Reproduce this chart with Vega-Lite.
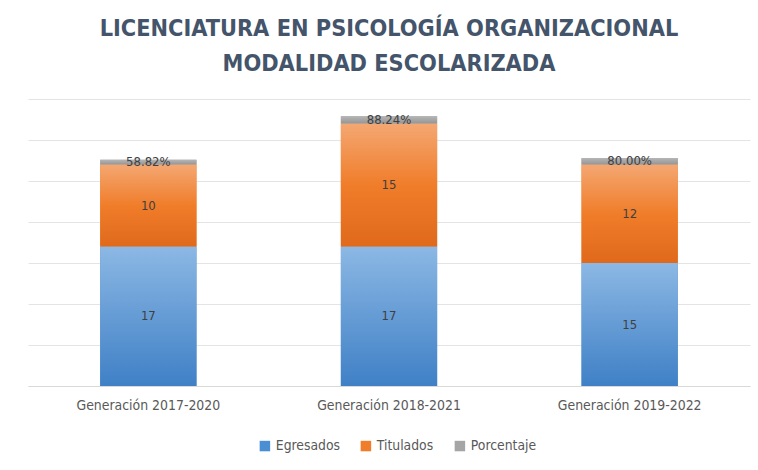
{
  "$schema": "https://vega.github.io/schema/vega-lite/v6.json",
  "width": 722,
  "height": 287,
  "autosize": "none",
  "padding": {"left": 28, "top": 99, "right": 8, "bottom": 84},
  "background": "white",
  "title": {
    "text": ["LICENCIATURA EN PSICOLOGÍA ORGANIZACIONAL", "MODALIDAD ESCOLARIZADA"],
    "font": "DejaVu Sans Condensed",
    "fontSize": 23.3,
    "fontWeight": "bold",
    "color": "#44546A",
    "anchor": "middle",
    "frame": "group",
    "lineHeight": 35,
    "offset": 23
  },
  "data": {
    "values": [
      {"gen": "Generación 2017-2020", "serie": "Egresados", "orden": 1, "valor": 17, "etiqueta": "17"},
      {"gen": "Generación 2017-2020", "serie": "Titulados", "orden": 2, "valor": 10, "etiqueta": "10"},
      {"gen": "Generación 2017-2020", "serie": "Porcentaje", "orden": 3, "valor": 0.5882, "etiqueta": "58.82%"},
      {"gen": "Generación 2018-2021", "serie": "Egresados", "orden": 1, "valor": 17, "etiqueta": "17"},
      {"gen": "Generación 2018-2021", "serie": "Titulados", "orden": 2, "valor": 15, "etiqueta": "15"},
      {"gen": "Generación 2018-2021", "serie": "Porcentaje", "orden": 3, "valor": 0.8824, "etiqueta": "88.24%"},
      {"gen": "Generación 2019-2022", "serie": "Egresados", "orden": 1, "valor": 15, "etiqueta": "15"},
      {"gen": "Generación 2019-2022", "serie": "Titulados", "orden": 2, "valor": 12, "etiqueta": "12"},
      {"gen": "Generación 2019-2022", "serie": "Porcentaje", "orden": 3, "valor": 0.80, "etiqueta": "80.00%"}
    ]
  },
  "transform": [
    {"stack": "valor", "groupby": ["gen"], "sort": [{"field": "orden", "order": "ascending"}], "as": ["v0", "v1"]}
  ],
  "encoding": {
    "x": {
      "field": "gen", "type": "nominal", "sort": null,
      "scale": {"paddingInner": 0.6, "paddingOuter": 0.3},
      "axis": {
        "title": null, "labelAngle": 0, "ticks": false, "domainColor": "#D9D9D9",
        "labelFont": "DejaVu Sans Condensed", "labelFontSize": 13.9, "labelColor": "#595959", "labelPadding": 12
      }
    }
  },
  "layer": [
    {
      "mark": {"type": "bar"},
      "encoding": {
        "y": {
          "field": "v0", "type": "quantitative",
          "scale": {"domain": [0, 35], "nice": false},
          "axis": {"title": null, "labels": false, "ticks": false, "domain": false, "tickCount": 7, "gridColor": "#E4E4E4"}
        },
        "y2": {"field": "v1"},
        "color": {
          "field": "serie", "type": "nominal",
          "scale": {"domain": ["Egresados", "Titulados", "Porcentaje"], "range": ["#4A8ED4", "#F07D2A", "#A5A5A5"]},
          "legend": {
            "title": null, "orient": "none", "legendX": 230, "legendY": 340, "direction": "horizontal", "symbolType": "square",
            "symbolSize": 110, "symbolStrokeWidth": 0, "labelFont": "DejaVu Sans Condensed", "labelFontSize": 13.8,
            "labelColor": "#595959", "columnPadding": 19, "labelOffset": 4
          }
        }
      }
    },
    {
      "transform": [{"filter": "datum.serie === 'Egresados'"}],
      "mark": {"type": "bar", "color": {"gradient": "linear", "x1": 0, "y1": 0, "x2": 0, "y2": 1,
        "stops": [{"offset": 0, "color": "#8CB8E4"}, {"offset": 1, "color": "#3F80C6"}]}},
      "encoding": {"y": {"field": "v0", "type": "quantitative"}, "y2": {"field": "v1"}}
    },
    {
      "transform": [{"filter": "datum.serie === 'Titulados'"}],
      "mark": {"type": "bar", "color": {"gradient": "linear", "x1": 0, "y1": 0, "x2": 0, "y2": 1,
        "stops": [{"offset": 0, "color": "#F4A772"}, {"offset": 0.5, "color": "#F07D2A"}, {"offset": 1, "color": "#E0691C"}]}},
      "encoding": {"y": {"field": "v0", "type": "quantitative"}, "y2": {"field": "v1"}}
    },
    {
      "transform": [{"filter": "datum.serie === 'Porcentaje'"}],
      "mark": {"type": "bar", "color": {"gradient": "linear", "x1": 0, "y1": 0, "x2": 0, "y2": 1,
        "stops": [{"offset": 0, "color": "#B5B5B5"}, {"offset": 1, "color": "#959595"}]}},
      "encoding": {"y": {"field": "v0", "type": "quantitative"}, "y2": {"field": "v1"}}
    },
    {
      "mark": {"type": "text", "font": "DejaVu Sans Condensed", "fontSize": 13, "color": "#404040", "baseline": "middle"},
      "encoding": {
        "y": {"field": "mid", "type": "quantitative"},
        "text": {"field": "etiqueta"}
      },
      "transform": [{"calculate": "(datum.v0 + datum.v1) / 2", "as": "mid"}]
    }
  ],
  "config": {"view": {"stroke": null}}
}
